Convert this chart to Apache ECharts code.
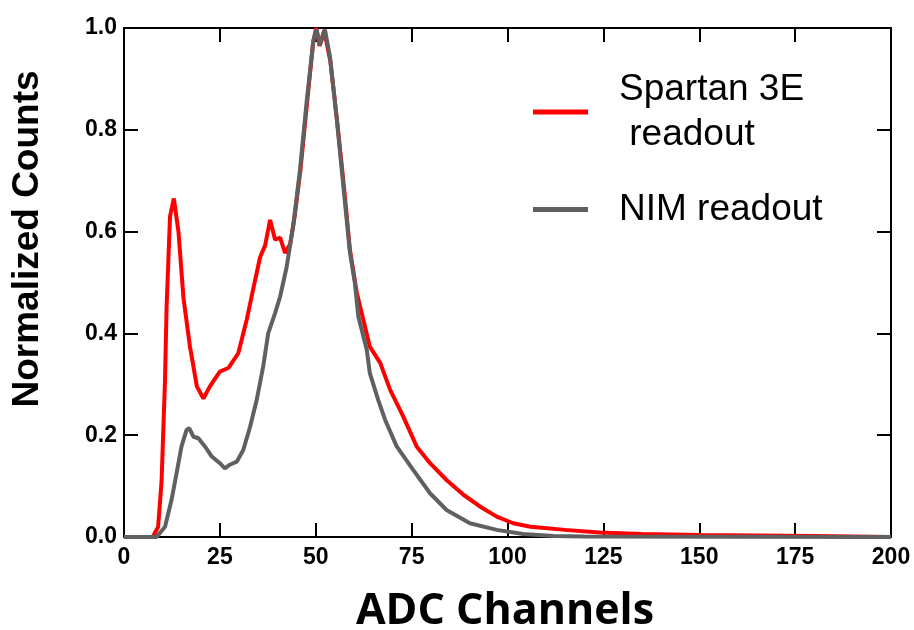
<!DOCTYPE html>
<html>
<head>
<meta charset="utf-8">
<script src="https://cdn.jsdelivr.net/npm/echarts@6/dist/echarts.min.js"></script>
<style>html,body{margin:0;padding:0;background:#fff}#c{width:914px;height:630px}</style>
</head>
<body>
<div id="c"></div>
<script>
var xTicks = [0, 25, 50, 75, 100, 125, 150, 175, 200];
var yTicks = [0.0, 0.2, 0.4, 0.6, 0.8, 1.0];

var spartanChannels = [0, 7.5, 8.9, 9.8, 10.7, 11.1, 12.0, 13.0, 14.2, 15.5, 17.2, 19.0, 20.7, 22.4, 25.0, 27.2, 29.8, 32.0, 34.2, 35.5, 36.8, 38.1, 39.4, 40.7, 42.0, 43.3, 44.5, 46.0, 47.7, 49.3, 50.1, 51.0, 52.2, 53.8, 55.6, 57.4, 58.9, 60.7, 62.4, 64.1, 66.8, 69.4, 72.8, 76.3, 79.8, 84.1, 88.5, 92.8, 97.2, 101.5, 106, 115, 124, 135, 150, 165, 180, 190, 200];
var spartanCounts = [0, 0, 0.02, 0.11, 0.31, 0.45, 0.63, 0.665, 0.60, 0.47, 0.374, 0.296, 0.272, 0.296, 0.325, 0.332, 0.361, 0.427, 0.505, 0.55, 0.573, 0.623, 0.584, 0.588, 0.558, 0.575, 0.63, 0.72, 0.85, 0.97, 1.0, 0.965, 0.995, 0.935, 0.815, 0.685, 0.565, 0.48, 0.427, 0.374, 0.342, 0.289, 0.237, 0.178, 0.145, 0.112, 0.083, 0.06, 0.04, 0.027, 0.02, 0.014, 0.009, 0.006, 0.004, 0.003, 0.002, 0.001, 0];

var nimChannels = [0, 8.5, 10.7, 12.4, 13.7, 15.0, 16.3, 17.0, 18.1, 19.4, 21.1, 22.9, 25.0, 26.3, 27.6, 29.4, 31.1, 32.9, 34.6, 36.3, 37.6, 39.4, 40.7, 42.4, 44.1, 45.9, 47.6, 49.4, 50.2, 51.1, 52.4, 53.7, 55.5, 57.2, 58.9, 60.2, 61.1, 63.3, 64.1, 66.3, 68.1, 71.1, 75.4, 79.8, 84.1, 90.2, 97.2, 104.1, 112, 120, 200];
var nimCounts = [0, 0, 0.02, 0.073, 0.125, 0.178, 0.21, 0.214, 0.197, 0.194, 0.178, 0.158, 0.145, 0.135, 0.142, 0.148, 0.171, 0.217, 0.269, 0.335, 0.40, 0.44, 0.472, 0.53, 0.61, 0.722, 0.853, 0.977, 0.997, 0.967, 0.997, 0.944, 0.82, 0.689, 0.56, 0.499, 0.433, 0.368, 0.322, 0.269, 0.23, 0.178, 0.132, 0.086, 0.053, 0.027, 0.014, 0.006, 0.002, 0.001, 0];

function pairs(xs, ys) { return xs.map(function (x, i) { return [x, ys[i]]; }); }

var chart = echarts.init(document.getElementById('c'), null, {renderer: 'canvas'});
var tickFont = {fontFamily: 'Liberation Sans, Arial, sans-serif', fontWeight: 'bold', fontSize: 23, color: '#000'};
var axLine = {show: true, onZero: false, lineStyle: {color: '#000', width: 2}};
var axTick = {show: true, inside: true, length: 14, lineStyle: {color: '#000', width: 2}};

chart.setOption({
  animation: false,
  backgroundColor: '#fff',
  grid: {left: 124, right: 23, top: 28, bottom: 93, containLabel: false},
  legend: {
    orient: 'vertical', left: 528, top: 62, itemGap: 30,
    itemWidth: 55, itemHeight: 5, icon: 'rect',
    textStyle: {fontFamily: 'Liberation Sans, Arial, sans-serif', fontSize: 37, color: '#000', lineHeight: 45, padding: [0, 0, 0, 26]},
    data: ['Spartan 3E\n readout', 'NIM readout']
  },
  xAxis: [{
    type: 'value', min: 0, max: 200, interval: 25, position: 'bottom',
    axisLine: axLine, axisTick: axTick, splitLine: {show: false},
    axisLabel: Object.assign({margin: 9, formatter: function (v) { return xTicks.indexOf(v) >= 0 ? String(v) : ''; }}, tickFont)
  }, {
    type: 'value', min: 0, max: 200, interval: 25, position: 'top',
    axisLine: axLine, axisTick: axTick, splitLine: {show: false}, axisLabel: {show: false}
  }],
  yAxis: [{
    type: 'value', min: 0, max: 1, interval: 0.2, position: 'left',
    axisLine: axLine, axisTick: axTick, splitLine: {show: false},
    axisLabel: Object.assign({margin: 7, formatter: function (v) { return v.toFixed(1); }}, tickFont)
  }, {
    type: 'value', min: 0, max: 1, interval: 0.2, position: 'right',
    axisLine: axLine, axisTick: axTick, splitLine: {show: false}, axisLabel: {show: false}
  }],
  series: [{
    name: 'Spartan 3E\n readout', type: 'line', showSymbol: false, smooth: false,
    data: pairs(spartanChannels, spartanCounts),
    itemStyle: {color: '#ff0000'}, lineStyle: {color: '#ff0000', width: 4}
  }, {
    name: 'NIM readout', type: 'line', showSymbol: false, smooth: false,
    data: pairs(nimChannels, nimCounts),
    itemStyle: {color: '#606060'}, lineStyle: {color: '#606060', width: 4}
  }],
  graphic: [{
    type: 'text', x: 28, y: 239, rotation: Math.PI / 2,
    style: {text: 'Normalized Counts', fill: '#000', fontFamily: 'Liberation Sans, Arial, sans-serif', fontWeight: 'bold', fontSize: 37, align: 'center', verticalAlign: 'middle'}
  }, {
    type: 'text', x: 505, y: 612,
    style: {text: 'ADC Channels', fill: '#000', fontFamily: 'Open Sans, sans-serif', fontWeight: 'bold', fontSize: 43, align: 'center', verticalAlign: 'middle'}
  }]
});
</script>
</body>
</html>
